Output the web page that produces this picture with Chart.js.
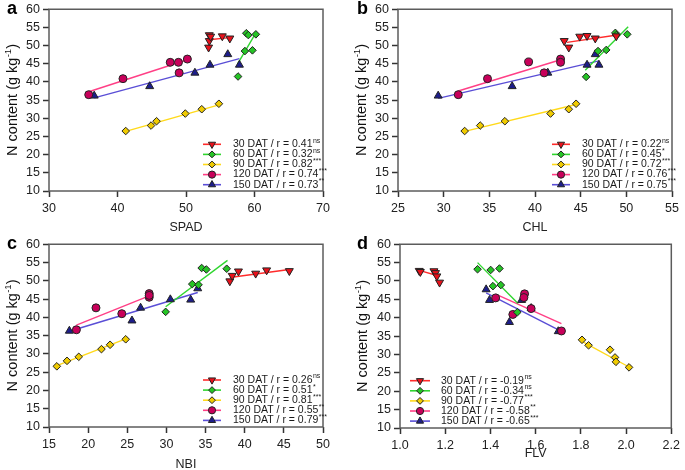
<!DOCTYPE html>
<html>
<head>
<meta charset="utf-8">
<script src="https://cdn.jsdelivr.net/npm/chart.js@4.4.1/dist/chart.umd.min.js"></script>
<style>
  html, body { margin: 0; padding: 0; background: #fff; }
  #grid { position: relative; width: 685px; height: 470px; }
  .panel { position: absolute; }
</style>
</head>
<body>
<div id="grid">
  <canvas id="chartA" class="panel" width="342" height="235" style="left:0;top:0"></canvas>
  <canvas id="chartB" class="panel" width="343" height="235" style="left:342px;top:0"></canvas>
  <canvas id="chartC" class="panel" width="342" height="235" style="left:0;top:235px"></canvas>
  <canvas id="chartD" class="panel" width="343" height="235" style="left:342px;top:235px"></canvas>
</div>
<script>
const FONT = "'Liberation Sans', Arial, Helvetica, sans-serif";

const datLabels = ["30 DAT", "60 DAT", "90 DAT", "120 DAT", "150 DAT"];
const nTicks = [10, 15, 20, 25, 30, 35, 40, 45, 50, 55, 60];

// a - SPAD
const spadTicks = [30, 40, 50, 60, 70];
const spad30 = [[53.3, 49.5], [53.4, 51.3], [53.4, 52.9], [53.6, 52.5], [55.3, 52.6], [56.4, 52.0]];
const spad60 = [[58.8, 53.4], [59.1, 52.9], [60.2, 53.1], [58.6, 48.5], [59.7, 48.7], [57.6, 41.5]];
const spad90 = [[41.2, 26.5], [44.9, 28.0], [45.7, 29.2], [49.9, 31.3], [52.3, 32.5], [54.8, 34.0]];
const spad120 = [[35.8, 36.5], [40.8, 40.9], [47.7, 45.4], [48.9, 45.4], [50.2, 46.3], [49.0, 42.5]];
const spad150 = [[36.6, 36.2], [44.7, 38.8], [51.3, 42.5], [53.5, 44.7], [56.1, 47.6], [57.8, 44.7]];
const spadFit30 = [[53.3, 51.6], [56.4, 52.2]];
const spadFit60 = [[57.6, 45.2], [60.2, 53.5]];
const spadFit90 = [[41.2, 26.4], [54.8, 33.7]];
const spadFit120 = [[35.8, 37.3], [50.2, 46.1]];
const spadFit150 = [[36.6, 35.6], [57.8, 46.4]];
const spadR = ["0.41", "0.32", "0.82", "0.74", "0.73"];
const spadSig = ["ns", "ns", "***", "***", "**"];

// b - CHL
const chlTicks = [25, 30, 35, 40, 45, 50, 55];
const chl30 = [[43.2, 51.3], [43.7, 49.5], [44.9, 52.5], [45.7, 52.7], [46.6, 52.0], [48.9, 52.6]];
const chl60 = [[48.8, 53.5], [48.9, 52.9], [50.1, 53.1], [46.9, 48.5], [47.8, 48.8], [45.6, 41.4]];
const chl90 = [[32.3, 26.5], [34.0, 28.0], [36.7, 29.2], [41.7, 31.3], [43.7, 32.5], [44.5, 34.0]];
const chl120 = [[31.6, 36.5], [34.8, 40.9], [39.3, 45.5], [42.8, 46.3], [42.8, 45.4], [41.0, 42.5]];
const chl150 = [[29.4, 36.2], [37.5, 38.8], [41.4, 42.5], [45.7, 44.7], [46.6, 47.6], [47.0, 44.7]];
const chlFit30 = [[43.5, 50.9], [49.0, 52.9]];
const chlFit60 = [[45.5, 43.2], [50.2, 55.2]];
const chlFit90 = [[32.3, 26.4], [44.5, 33.8]];
const chlFit120 = [[31.6, 37.5], [42.8, 46.1]];
const chlFit150 = [[29.4, 35.5], [47.0, 45.8]];
const chlR = ["0.22", "0.45", "0.72", "0.76", "0.75"];
const chlSig = ["ns", "*", "***", "***", "***"];

// c - NBI
const nbiTicks = [15, 20, 25, 30, 35, 40, 45, 50];
const nbi30 = [[38.1, 49.9], [38.4, 51.4], [39.2, 52.6], [41.4, 52.0], [42.8, 52.9], [45.7, 52.7]];
const nbi60 = [[34.5, 53.5], [35.1, 53.1], [37.7, 53.3], [33.3, 49.1], [34.1, 48.9], [29.9, 41.5]];
const nbi90 = [[16.0, 26.6], [17.3, 28.1], [18.8, 29.2], [21.7, 31.3], [22.8, 32.5], [24.8, 34.0]];
const nbi120 = [[18.5, 36.6], [21.0, 42.6], [24.3, 41.0], [27.8, 46.5], [27.8, 45.5], [27.8, 46.0]];
const nbi150 = [[17.6, 36.3], [25.6, 39.1], [26.7, 42.6], [30.5, 44.9], [33.1, 44.8], [34.0, 47.9]];
const nbiFit30 = [[38.1, 50.9], [45.7, 53.1]];
const nbiFit60 = [[29.9, 42.9], [37.8, 55.6]];
const nbiFit90 = [[16.0, 26.8], [24.8, 34.1]];
const nbiFit120 = [[18.5, 37.9], [27.8, 45.9]];
const nbiFit150 = [[17.6, 36.2], [34.0, 46.8]];
const nbiR = ["0.26", "0.51", "0.81", "0.55", "0.79"];
const nbiSig = ["ns", "*", "***", "**", "***"];

// d - FLV
const flvTicks = [1.0, 1.2, 1.4, 1.6, 1.8, 2.0, 2.2];
const flv30 = [[1.085, 52.8], [1.09, 52.5], [1.15, 52.7], [1.157, 52.2], [1.163, 51.3], [1.175, 49.6]];
const flv60 = [[1.343, 53.2], [1.401, 53.0], [1.44, 53.4], [1.411, 48.6], [1.446, 48.9], [1.519, 41.5]];
const flv90 = [[1.805, 34.0], [1.834, 32.5], [1.929, 31.3], [1.951, 29.2], [1.955, 28.0], [2.013, 26.5]];
const flv120 = [[1.423, 45.4], [1.499, 40.9], [1.551, 46.5], [1.548, 45.5], [1.58, 42.5], [1.714, 36.4]];
const flv150 = [[1.381, 47.7], [1.396, 44.8], [1.484, 38.8], [1.538, 44.8], [1.58, 42.6], [1.70, 36.3]];
const flvFit30 = [[1.085, 52.9], [1.175, 51.3]];
const flvFit60 = [[1.343, 55.0], [1.522, 43.9]];
const flvFit90 = [[1.805, 33.6], [2.013, 26.6]];
const flvFit120 = [[1.423, 46.4], [1.714, 38.4]];
const flvFit150 = [[1.381, 46.8], [1.714, 36.3]];
const flvR = ["-0.19", "-0.34", "-0.77", "-0.58", "-0.65"];
const flvSig = ["ns", "ns", "***", "**", "***"];

const seriesStyles = [
  { fill: "#e8111b", line: "#ff2b2b", pointStyle: "triangle", rotation: 180, radius: 4.6 },
  { fill: "#25c425", line: "#2fd62f", pointStyle: "rectRot", rotation: 0, radius: 3.8 },
  { fill: "#f0cb00", line: "#ffd91a", pointStyle: "rectRot", rotation: 0, radius: 3.8 },
  { fill: "#c8005a", line: "#ff3f86", pointStyle: "circle", rotation: 0, radius: 4 },
  { fill: "#1d1d8a", line: "#5a4ed6", pointStyle: "triangle", rotation: 0, radius: 4.6 }
];

const panelDecor = {
  id: "panelDecor",
  afterDraw(chart, args, opts) {
    const { ctx, chartArea: area } = chart;
    ctx.save();

    ctx.strokeStyle = "#5c5c5c";
    ctx.lineWidth = 1.5;
    ctx.strokeRect(area.left, area.top, area.right - area.left, area.bottom - area.top);

    ctx.fillStyle = "#000";
    ctx.font = `bold 18px ${FONT}`;
    ctx.textAlign = "left";
    ctx.textBaseline = "alphabetic";
    ctx.fillText(opts.letter, opts.letterX, opts.letterY);

    ctx.fillStyle = "#222";
    ctx.font = `12.5px ${FONT}`;
    ctx.textAlign = "center";
    ctx.textBaseline = "middle";
    ctx.fillText(opts.xTitle, (area.left + area.right) / 2, area.bottom + opts.xTitleGap);

    drawYTitle(ctx, opts.yTitleX, (area.top + area.bottom) / 2);
    drawLegend(ctx, opts);
    ctx.restore();
  }
};

function drawYTitle(ctx, x, cy) {
  const main = "N content (g kg";
  const sup = "-1";
  const close = ")";
  ctx.save();
  ctx.translate(x, cy);
  ctx.rotate(-Math.PI / 2);
  ctx.fillStyle = "#111";
  ctx.textAlign = "left";
  ctx.textBaseline = "middle";
  ctx.font = `14.5px ${FONT}`;
  const w1 = ctx.measureText(main).width;
  const w3 = ctx.measureText(close).width;
  ctx.font = `9.5px ${FONT}`;
  const w2 = ctx.measureText(sup).width;
  const start = -(w1 + w2 + w3) / 2;
  ctx.font = `14.5px ${FONT}`;
  ctx.fillText(main, start, 0);
  ctx.fillText(close, start + w1 + w2 + 0.5, 0);
  ctx.font = `9.5px ${FONT}`;
  ctx.fillText(sup, start + w1 + 0.3, -5);
  ctx.restore();
}

function drawLegend(ctx, opts) {
  opts.r.forEach((r, i) => {
    const style = seriesStyles[i];
    const y = opts.legendY + i * opts.legendStep;
    ctx.strokeStyle = style.line;
    ctx.lineWidth = 1.6;
    ctx.beginPath();
    ctx.moveTo(opts.legendX1, y);
    ctx.lineTo(opts.legendX2, y);
    ctx.stroke();

    ctx.fillStyle = style.fill;
    ctx.strokeStyle = "#222";
    ctx.lineWidth = 1;
    Chart.helpers.drawPoint(ctx, {
      pointStyle: style.pointStyle,
      rotation: style.rotation,
      radius: style.radius * 0.9,
      borderWidth: 1
    }, (opts.legendX1 + opts.legendX2) / 2, y);

    ctx.fillStyle = "#1a1a1a";
    ctx.textAlign = "left";
    ctx.textBaseline = "middle";
    ctx.font = `10.5px ${FONT}`;
    const label = `${datLabels[i]} / r = ${r}`;
    ctx.fillText(label, opts.legendTextX, y);
    const w = ctx.measureText(label).width;
    ctx.font = `7px ${FONT}`;
    ctx.fillText(opts.sig[i], opts.legendTextX + w + 0.5, y - 3.5);
  });
}

function toXY(pairs) {
  return pairs.map(([x, y]) => ({ x, y }));
}

function buildPanel(canvasId, cfg) {
  const datasets = [];
  cfg.points.forEach((pts, i) => {
    const s = seriesStyles[i];
    datasets.push({
      label: datLabels[i],
      data: toXY(pts),
      showLine: false,
      pointStyle: s.pointStyle,
      pointRotation: s.rotation,
      pointRadius: s.radius,
      pointBackgroundColor: s.fill,
      pointBorderColor: "#222",
      pointBorderWidth: 1,
      order: 1
    });
    datasets.push({
      label: `${datLabels[i]} fit`,
      data: toXY(cfg.fits[i]),
      showLine: true,
      borderColor: s.line,
      borderWidth: 1.4,
      pointRadius: 0,
      fill: false,
      order: 2
    });
  });

  const tickFont = { family: FONT, size: 12.5, lineHeight: 1 };

  return new Chart(document.getElementById(canvasId), {
    type: "scatter",
    data: { datasets },
    options: {
      responsive: false,
      animation: false,
      layout: { padding: { top: cfg.padTop, right: cfg.padRight, left: 0, bottom: 0 } },
      plugins: {
        legend: { display: false },
        tooltip: { enabled: false },
        panelDecor: {
          letter: cfg.letter,
          letterX: cfg.letterX,
          letterY: 14,
          xTitle: cfg.xTitle,
          xTitleGap: cfg.xTitleGap,
          yTitleX: cfg.yTitleX,
          legendX1: cfg.legendX1,
          legendX2: cfg.legendX2,
          legendTextX: cfg.legendTextX,
          legendY: cfg.legendY,
          legendStep: 10.1,
          r: cfg.r,
          sig: cfg.sig
        }
      },
      scales: {
        x: {
          type: "linear",
          min: cfg.xTicks[0],
          max: cfg.xTicks[cfg.xTicks.length - 1],
          afterBuildTicks: (scale) => { scale.ticks = cfg.xTicks.map((v) => ({ value: v })); },
          afterFit: (scale) => { scale.height = cfg.xHeight; },
          border: { display: false },
          grid: { drawOnChartArea: false, drawTicks: true, tickLength: 6, tickColor: "#333", tickWidth: 1.5 },
          ticks: {
            font: tickFont,
            color: "#222",
            padding: 5,
            maxRotation: 0,
            callback: (v) => cfg.xDecimals ? Number(v).toFixed(cfg.xDecimals) : v
          }
        },
        y: {
          type: "linear",
          min: nTicks[0],
          max: nTicks[nTicks.length - 1],
          afterBuildTicks: (scale) => { scale.ticks = nTicks.map((v) => ({ value: v })); },
          afterFit: (scale) => { scale.width = cfg.yWidth; },
          border: { display: false },
          grid: { drawOnChartArea: false, drawTicks: true, tickLength: 6, tickColor: "#333", tickWidth: 1.5 },
          ticks: { font: tickFont, color: "#222", padding: 3 }
        }
      }
    },
    plugins: [panelDecor]
  });
}

buildPanel("chartA", {
  letter: "a", letterX: 7, xTitle: "SPAD", xTitleGap: 37, yTitleX: 13,
  padTop: 7, padRight: 19, yWidth: 49, xHeight: 44,
  xTicks: spadTicks,
  points: [spad30, spad60, spad90, spad120, spad150],
  fits: [spadFit30, spadFit60, spadFit90, spadFit120, spadFit150],
  r: spadR, sig: spadSig,
  legendX1: 203, legendX2: 221, legendTextX: 233, legendY: 144.3
});

buildPanel("chartB", {
  letter: "b", letterX: 15, xTitle: "CHL", xTitleGap: 37, yTitleX: 20,
  padTop: 7, padRight: 13, yWidth: 56, xHeight: 44,
  xTicks: chlTicks,
  points: [chl30, chl60, chl90, chl120, chl150],
  fits: [chlFit30, chlFit60, chlFit90, chlFit120, chlFit150],
  r: chlR, sig: chlSig,
  legendX1: 210, legendX2: 228, legendTextX: 240, legendY: 144.3
});

buildPanel("chartC", {
  letter: "c", letterX: 7, xTitle: "NBI", xTitleGap: 38, yTitleX: 13,
  padTop: 9, padRight: 19, yWidth: 49, xHeight: 43,
  xTicks: nbiTicks,
  points: [nbi30, nbi60, nbi90, nbi120, nbi150],
  fits: [nbiFit30, nbiFit60, nbiFit90, nbiFit120, nbiFit150],
  r: nbiR, sig: nbiSig,
  legendX1: 203, legendX2: 221, legendTextX: 233, legendY: 145
});

buildPanel("chartD", {
  letter: "d", letterX: 15, xTitle: "FLV", xTitleGap: 26, yTitleX: 21,
  padTop: 9, padRight: 11, yWidth: 58, xHeight: 42, xDecimals: 1,
  xTicks: flvTicks,
  points: [flv30, flv60, flv90, flv120, flv150],
  fits: [flvFit30, flvFit60, flvFit90, flvFit120, flvFit150],
  r: flvR, sig: flvSig,
  legendX1: 68, legendX2: 88, legendTextX: 99, legendY: 145.7
});
</script>
</body>
</html>
